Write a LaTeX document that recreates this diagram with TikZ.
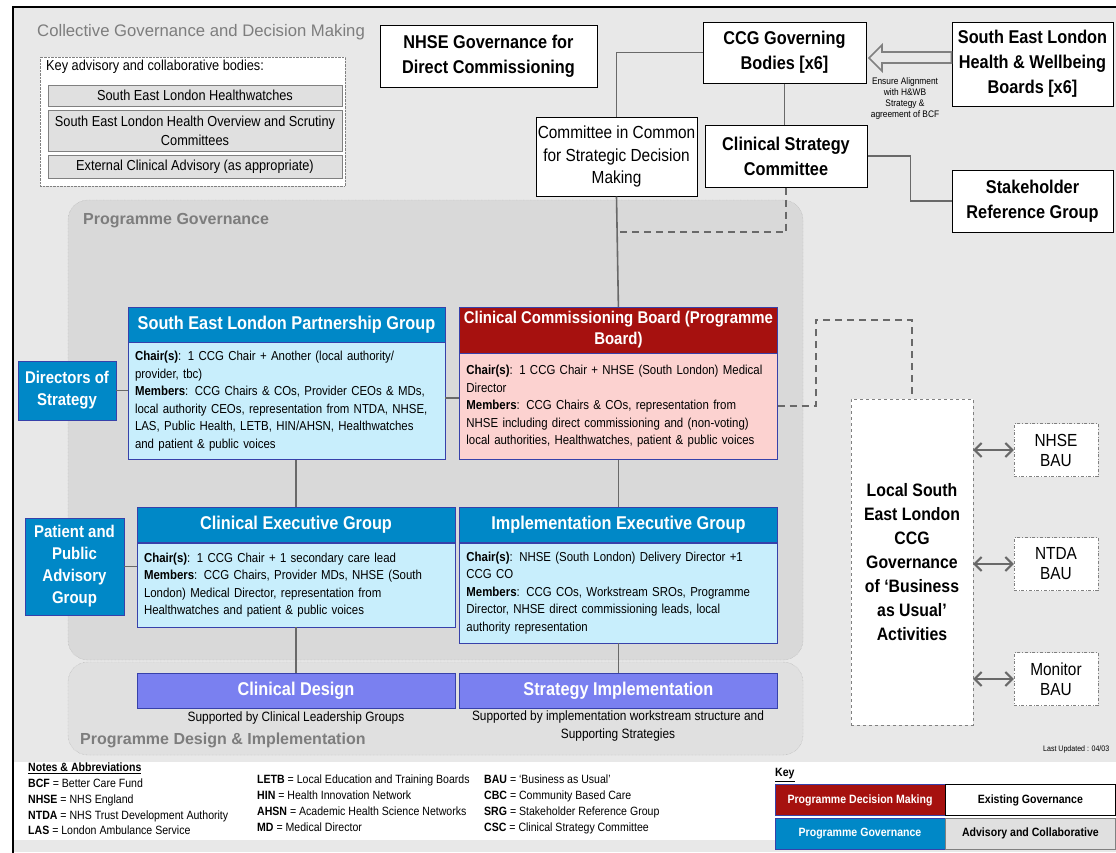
\documentclass[tikz,border=0pt]{standalone}
\usepackage{fontspec}
\setmainfont[FakeStretch=0.88]{Liberation Sans}
\newfontfamily\titlefont{Liberation Sans}
\usetikzlibrary{arrows.meta, positioning, calc}
\definecolor{progblue}{RGB}{0,136,199}
\definecolor{bodyblue}{RGB}{200,238,252}
\definecolor{decred}{RGB}{166,17,15}
\definecolor{bodypink}{RGB}{252,210,208}
\definecolor{designblue}{RGB}{122,128,240}
\definecolor{edgeblue}{RGB}{55,65,170}
\definecolor{pagegrey}{RGB}{232,232,232}
\definecolor{pggrey}{RGB}{217,217,217}
\definecolor{pdigrey}{RGB}{224,224,224}
\definecolor{advgrey}{RGB}{224,224,224}
\definecolor{linegrey}{RGB}{105,105,105}
\definecolor{titlegrey}{RGB}{125,125,125}
\tikzset{
  govbox/.style={rectangle, draw=black, fill=white, line width=1pt, align=center,
    inner sep=0pt, font=\fontsize{18.5}{25}\selectfont\bfseries},
  hdrblue/.style={rectangle, draw=edgeblue, fill=progblue, text=white, align=center,
    inner sep=0pt, minimum width=317pt, minimum height=35pt,
    font=\fontsize{18.5}{21}\selectfont\bfseries},
  hdrred/.style={hdrblue, fill=decred, minimum width=318pt, minimum height=46pt,
    font=\fontsize{17}{21}\selectfont\bfseries},
  bodyblue/.style={rectangle, draw=edgeblue, fill=bodyblue, align=left,
    inner xsep=7pt, inner ysep=4pt, text width=303pt,
    font=\fontsize{13}{17.5}\selectfont},
  bodyred/.style={bodyblue, fill=bodypink, text width=304pt},
  sidebox/.style={rectangle, draw=edgeblue, fill=progblue, text=white, align=center,
    inner sep=0pt, font=\fontsize{17}{22}\selectfont\bfseries},
  designbox/.style={hdrblue, fill=designblue, minimum width=318pt},
  caption/.style={align=center, inner sep=0pt, font=\fontsize{13.5}{17.5}\selectfont},
  advbox/.style={rectangle, draw=gray, fill=advgrey, minimum width=294pt, align=center,
    inner sep=0pt, font=\fontsize{14.5}{19}\selectfont},
  locbox/.style={rectangle, draw=gray, dashed, fill=white, align=center, inner sep=0pt,
    font=\fontsize{18}{24}\selectfont\bfseries},
  baubox/.style={rectangle, draw=gray, dash dot, fill=white, align=center, inner sep=0pt,
    minimum width=84pt, minimum height=53pt, font=\fontsize{17.5}{20}\selectfont},
  region/.style={rounded corners=20pt, draw=gray!70, densely dotted},
  regtitle/.style={anchor=west, inner sep=0pt, text=titlegrey,
    font=\titlefont\fontsize{16.7}{18}\selectfont},
  keycell/.style={rectangle, minimum width=170pt, minimum height=31pt, inner sep=0pt,
    font=\fontsize{12}{15}\selectfont\bfseries},
  link/.style={draw=linegrey, line width=1.6pt},
  dashlink/.style={draw=linegrey, line width=2pt, dash pattern=on 7pt off 5pt},
  twoway/.style={{Straight Barb[length=7pt,width=14pt]}-{Straight Barb[length=7pt,width=14pt]},
    draw=linegrey, line width=2pt},
  hollow/.style={draw=gray, line width=1.6pt, fill=pagegrey},
  notes/.style={anchor=north west, align=left, inner sep=0pt,
    font=\fontsize{12}{15.7}\selectfont},
}
\begin{document}
\begin{tikzpicture}[x=1pt, y=-1pt]
  \useasboundingbox (0,0) rectangle (1116,852);
  \fill[white] (0,0) rectangle (1116,852);
  \fill[pagegrey] (13,7) rectangle (1116,852);
  \fill[white] (13,762) rectangle (1116,840);
  \draw[line width=2pt] (13,870) -- (13,7) -- (1130,7);

  % regions
  \filldraw[region, fill=pggrey] (68,200) rectangle (803,660);
  \filldraw[region, fill=pdigrey] (68,662) rectangle (803,755);
  \node[regtitle] (coltitle) at (37,32) {Collective Governance and Decision Making};
  \node[regtitle, font=\titlefont\fontsize{16}{18}\selectfont\bfseries] (pgtitle) at (83,221) {Programme Governance};
  \node[regtitle, font=\titlefont\fontsize{16}{18}\selectfont\bfseries] (pdititle) at (80,740) {Programme Design \& Implementation};

  % key advisory bodies
  \node[draw=gray, densely dotted, fill=white, minimum width=305pt, minimum height=129pt] (keyadv) at (192.5,121.5) {};
  \node[anchor=west, inner sep=0pt, font=\fontsize{14.5}{15}\selectfont] (keyadvlbl) at (46,67) {Key advisory and collaborative bodies:};
  \node[advbox, minimum height=21pt] (hw) at (195,95.5) {South East London Healthwatches};
  \node[advbox, minimum height=41pt] (hosc) at (195,130.5) {South East London Health Overview and Scrutiny\\Committees};
  \node[advbox, minimum height=23pt] (eca) at (195,166.5) {External Clinical Advisory (as appropriate)};

  % existing governance
  \node[govbox, minimum width=217pt, minimum height=62pt] (nhsegov) at (488.5,56) {NHSE Governance for\\Direct Commissioning};
  \node[govbox, minimum width=163pt, minimum height=61pt] (ccggb) at (784.5,52.5) {CCG Governing\\Bodies [x6]};
  \node[govbox, minimum width=161pt, minimum height=84pt] (hwb) at (1032.5,64) {South East London\\Health \& Wellbeing\\Boards [x6]};
  \node[govbox, minimum width=161pt, minimum height=79pt, font=\fontsize{17.5}{22.5}\selectfont] (cic) at (616.5,156.5) {Committee in Common\\for Strategic Decision\\Making};
  \node[govbox, minimum width=162pt, minimum height=62pt] (csc) at (786,156) {Clinical Strategy\\Committee};
  \node[govbox, minimum width=161pt, minimum height=62pt] (srg) at (1032.5,201) {Stakeholder\\Reference Group};
  \node[align=center, inner sep=0pt, font=\fontsize{9.5}{11}\selectfont] (alignlbl) at (905,99) {Ensure Alignment\\with H\&WB\\Strategy \&\\agreement of BCF};

  % programme governance
  \node[hdrblue] (selhdr) at (286.5,324.5) {South East London Partnership Group};
  \node[bodyblue, below=0pt of selhdr, minimum height=117pt] (selbody) {\textbf{Chair(s)}: 1 CCG Chair + Another (local authority/\\provider, tbc)\\\textbf{Members}: CCG Chairs \& COs, Provider CEOs \& MDs,\\local authority CEOs,  representation from NTDA, NHSE,\\LAS, Public Health, LETB, HIN/AHSN, Healthwatches\\and patient \& public voices};
  \node[hdrred, right=14pt of selhdr.north east, anchor=north west] (ccbhdr) {Clinical Commissioning Board (Programme\\Board)};
  \node[bodyred, below=0pt of ccbhdr, minimum height=106pt] (ccbbody) {\textbf{Chair(s)}: 1 CCG Chair + NHSE (South London) Medical\\Director\\\textbf{Members}: CCG Chairs \& COs, representation from\\NHSE including direct commissioning and (non-voting)\\local authorities, Healthwatches, patient \& public voices};
  \node[hdrblue, minimum width=318pt] (ceghdr) at (296,525) {Clinical Executive Group};
  \node[bodyblue, text width=304pt, below=0pt of ceghdr, minimum height=84pt] (cegbody) {\textbf{Chair(s)}: 1 CCG Chair + 1 secondary care lead\\\textbf{Members}: CCG Chairs, Provider MDs, NHSE (South\\London) Medical Director, representation from\\Healthwatches and patient \& public voices};
  \node[hdrblue, minimum width=318pt, right=4pt of ceghdr] (ieghdr) {Implementation Executive Group};
  \node[bodyblue, text width=304pt, below=0pt of ieghdr, minimum height=100pt] (iegbody) {\textbf{Chair(s)}: NHSE (South London) Delivery Director +1\\CCG CO\\\textbf{Members}: CCG COs, Workstream SROs, Programme\\Director, NHSE direct commissioning leads, local\\authority representation};
  \node[sidebox, minimum width=98pt, minimum height=59pt] (dirs) at (67,390.5) {Directors of\\Strategy};
  \node[sidebox, minimum width=99pt, minimum height=97pt] (ppag) at (74.5,566.5) {Patient and\\Public\\Advisory\\Group};

  % design and implementation
  \node[designbox] (cdesign) at (296,690.5) {Clinical Design};
  \node[designbox, right=4pt of cdesign] (simpl) {Strategy Implementation};
  \node[caption] (cdcap) at (296,718) {Supported by Clinical Leadership Groups};
  \node[caption] (sicap) at (618,726) {Supported by implementation workstream structure and\\Supporting Strategies};

  % business as usual
  \node[locbox, minimum width=122pt, minimum height=326pt] (locgov) at (912,562) {Local South\\East London\\CCG\\Governance\\of ‘Business\\as Usual’\\Activities};
  \node[baubox] (nhsebau) at (1056,450) {NHSE\\BAU};
  \node[baubox] (ntdabau) at (1056,564) {NTDA\\BAU};
  \node[baubox] (monbau) at (1056,679) {Monitor\\BAU};
  \node[anchor=west, inner sep=0pt, font=\fontsize{8}{9}\selectfont] (updated) at (1043,749) {Last Updated : 04/03};

  % connectors
  \draw[link] (ccggb.west) -| (cic.north);
  \draw[link] (cic.south) -- (ccbhdr.north);
  \draw[link] (ccggb.south) -- (ccggb.south |- csc.north);
  \draw[link] (csc.east) -- ++(43,0) |- (srg.west);
  \draw[dashlink] (csc.south) |- (cic.south |- 0,232);
  \draw[dashlink] (ccbbody.east) -- ++(38,0) |- (locgov.north |- 0,320) -- (locgov.north);
  \draw[hollow] (869,58) -- ++(13,-13) -- ++(0,7) -- (hwb.west |- 0,52)
    -- (hwb.west |- 0,63) -- (882,63) -- ++(0,8) -- cycle;
  \draw[link] (dirs.east) -- (dirs.east -| selbody.west);
  \draw[link] (selbody.east |- 0,398) -- (ccbbody.west |- 0,398);
  \draw[link] (cegbody.north |- selbody.south) -- (ceghdr.north);
  \draw[link] (ccbbody.south) -- (ieghdr.north);
  \draw[link] (ppag.east) -- (ppag.east -| cegbody.west);
  \draw[link] (cegbody.south) -- (cdesign.north);
  \draw[link] (iegbody.south) -- (simpl.north);
  \draw[twoway] (locgov.east |- nhsebau) -- (nhsebau.west);
  \draw[twoway] (locgov.east |- ntdabau) -- (ntdabau.west);
  \draw[twoway] (locgov.east |- monbau) -- (monbau.west);

  % notes and key
  \node[notes] (notes1) at (28,763) {\underline{\textbf{Notes \& Abbreviations}}\\\textbf{BCF} = Better Care Fund\\\textbf{NHSE} = NHS England\\\textbf{NTDA} = NHS Trust Development Authority\\\textbf{LAS} = London Ambulance Service};
  \node[notes] (notes2) at (257,775) {\textbf{LETB} = Local Education and Training Boards\\\textbf{HIN} = Health Innovation Network\\\textbf{AHSN} = Academic Health Science Networks\\\textbf{MD} = Medical Director};
  \node[notes] (notes3) at (484,775) {\textbf{BAU} = ‘Business as Usual’\\\textbf{CBC} = Community Based Care\\\textbf{SRG} = Stakeholder Reference Group\\\textbf{CSC} = Clinical Strategy Committee};
  \node[anchor=west, inner sep=0pt, font=\fontsize{12}{14}\selectfont\bfseries] (keylbl) at (775,775) {\underline{Key}};
  \node[keycell, draw=edgeblue, fill=decred, text=white] (kpdm) at (860,800) {Programme Decision Making};
  \node[keycell, draw=black, fill=white, right=0pt of kpdm] (keg) {Existing Governance};
  \node[keycell, draw=edgeblue, fill=progblue, text=white, below=2pt of kpdm] (kpg) {Programme Governance};
  \node[keycell, draw=gray, fill=advgrey, right=0pt of kpg] (kac) {Advisory and Collaborative};
\end{tikzpicture}
\end{document}
